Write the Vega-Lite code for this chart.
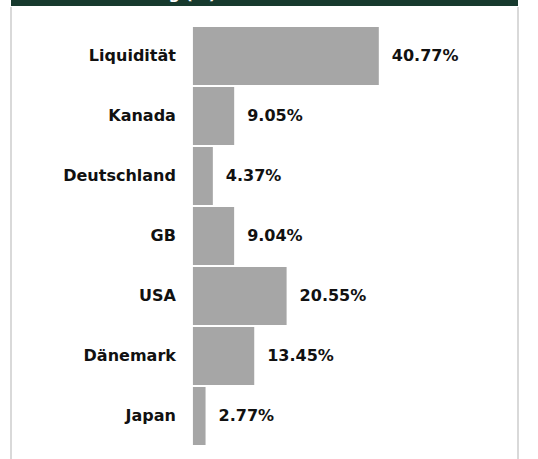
{
  "$schema": "https://vega.github.io/schema/vega-lite/v6.json",
  "padding": {"left": 10, "top": 0, "right": 21, "bottom": 0},
  "background": "white",
  "spacing": 0,
  "config": {"view": {"stroke": null}, "font": "DejaVu Sans"},
  "vconcat": [
    {
      "width": 507,
      "height": 6,
      "view": {"fill": "#173a2e", "stroke": null},
      "data": {"values": [{"titel": "Länderaufteilung (%)"}]},
      "mark": {"type": "text", "clip": true, "color": "white", "fontWeight": "bold", "fontSize": 16, "align": "left", "baseline": "alphabetic", "dx": -240, "dy": -4},
      "encoding": {"text": {"field": "titel"}}
    },
    {
      "width": 507,
      "height": 460,
      "data": {
        "values": [
          {"land": "Liquidität", "wert": 40.77, "label": "40.77%"},
          {"land": "Kanada", "wert": 9.05, "label": "9.05%"},
          {"land": "Deutschland", "wert": 4.37, "label": "4.37%"},
          {"land": "GB", "wert": 9.04, "label": "9.04%"},
          {"land": "USA", "wert": 20.55, "label": "20.55%"},
          {"land": "Dänemark", "wert": 13.45, "label": "13.45%"},
          {"land": "Japan", "wert": 2.77, "label": "2.77%"}
        ]
      },
      "layer": [
        {
          "mark": {"type": "bar", "color": "#a6a6a6"},
          "encoding": {
            "y": {"field": "land", "type": "nominal", "sort": null, "axis": null, "scale": {"range": [20, 438], "paddingInner": 0.033, "paddingOuter": 0}},
            "x": {"field": "wert", "type": "quantitative", "axis": null, "scale": {"domain": [-39.9, 71.3], "nice": false}}
          }
        },
        {
          "mark": {"type": "text", "align": "left", "baseline": "middle", "dx": 13, "fontSize": 16, "fontWeight": "bold", "color": "#111111"},
          "encoding": {
            "y": {"field": "land", "type": "nominal", "sort": null},
            "x": {"field": "wert", "type": "quantitative"},
            "text": {"field": "label"}
          }
        },
        {
          "mark": {"type": "text", "align": "right", "baseline": "middle", "dx": -17, "fontSize": 16, "fontWeight": "bold", "color": "#111111"},
          "encoding": {
            "y": {"field": "land", "type": "nominal", "sort": null},
            "x": {"datum": 0},
            "text": {"field": "land"}
          }
        },
        {
          "data": {"values": [{"rand": -39.9}, {"rand": 71.3}]},
          "mark": {"type": "rule", "color": "#d9d9d9", "strokeWidth": 2},
          "encoding": {"x": {"field": "rand", "type": "quantitative"}}
        }
      ]
    }
  ]
}
